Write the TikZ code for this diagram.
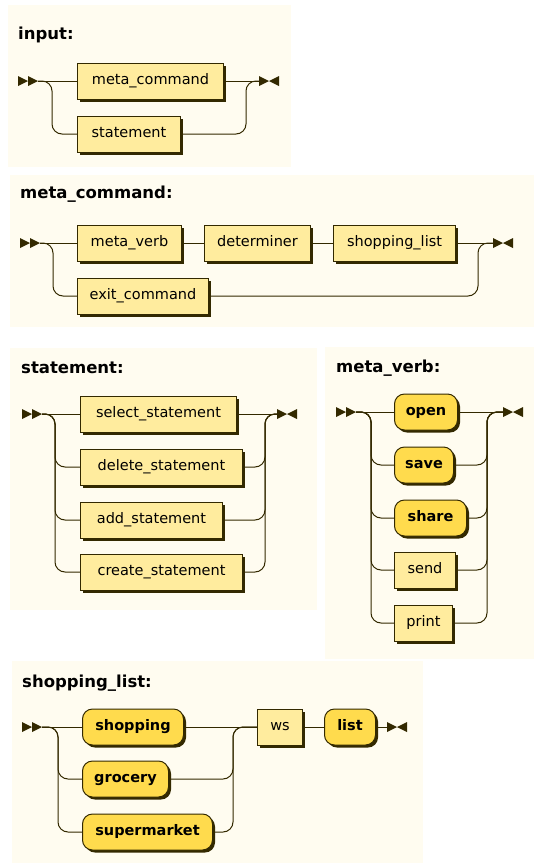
\documentclass[tikz,border=0pt]{standalone}
\usepackage{fontspec}
\setmainfont{DejaVu Sans}
\usepackage{tikz}
\usetikzlibrary{positioning,shadows}

\definecolor{railc}{HTML}{332900}
\definecolor{tfill}{HTML}{FFDB4D}
\definecolor{ntfill}{HTML}{FFEC9E}
\definecolor{panelc}{HTML}{FFFCF0}

\newcommand\boxfont{\fontsize{14.5}{17}\selectfont}
\newcommand\termfont{\fontsize{14.5}{17}\selectfont\bfseries}
\newcommand\headfont{\fontsize{16.5}{19}\selectfont\bfseries}

\tikzset{
    rail/.style={draw=railc, line width=1pt, rounded corners=10pt},
    ntbox/.style={draw=railc, fill=ntfill, line width=1pt, anchor=west,
        minimum height=36pt, text height=10.5pt, text depth=3pt, font=\boxfont,
        general shadow={fill=railc, shadow xshift=2.5pt, shadow yshift=-2.5pt}},
    tbox/.style={ntbox, fill=tfill, rounded corners=10pt, font=\termfont},
    heading/.style={anchor=base west, inner sep=0pt, font=\headfont},
    panel/.style={fill=panelc},
    startmark/.pic={
        \fill[railc] (-20,-5) -- (-10,0) -- (-20,5) -- cycle;
        \fill[railc] (-10,-5) -- (0,0) -- (-10,5) -- cycle;
    },
    endmark/.pic={
        \fill[railc] (0,-5) -- (10,0) -- (0,5) -- cycle;
        \fill[railc] (20,-5) -- (10,0) -- (20,5) -- cycle;
    }
}

\begin{document}
\begin{tikzpicture}[x=1pt, y=-1pt]
    \useasboundingbox (0,0) rectangle (534,863);

    % panels
    \fill[panel] (8,5)     rectangle (291,167);
    \fill[panel] (10,175)  rectangle (534,327);
    \fill[panel] (10,348)  rectangle (317,610);
    \fill[panel] (325,347) rectangle (534,659);
    \fill[panel] (12,661)  rectangle (423,863);

    % input
    \node[heading] at (18,39) (hIn) {input:};
    \coordinate (s1) at (38,81);
    \coordinate (e1) at (259,81);
    \pic at (s1) {startmark};
    \pic at (e1) {endmark};
    \node[ntbox, minimum width=146pt] at (77,81)  (mc) {meta\_command};
    \node[ntbox, minimum width=103pt] at (77,134) (st) {statement};
    \draw[rail] (s1) -- (mc) (mc) -- (e1);
    \draw[rail] (s1) -| ([xshift=-25pt]st.west) -- (st);
    \draw[rail] (st) -| ([xshift=-13pt]e1) -- (e1);

    % meta_command
    \node[heading] at (20,198) (hMc) {meta\_command:};
    \coordinate (s2) at (40,243);
    \coordinate (e2) at (493,243);
    \pic at (s2) {startmark};
    \pic at (e2) {endmark};
    \node[ntbox, minimum width=104pt] at (77,243)  (mv)  {meta\_verb};
    \node[ntbox, minimum width=106pt] at (204,243) (det) {determiner};
    \node[ntbox, minimum width=122pt] at (333,243) (sl)  {shopping\_list};
    \node[ntbox, minimum width=131pt] at (77,296)  (ex)  {exit\_command};
    \draw[rail]
        (s2) edge (mv)
        (mv) edge (det)
        (det) edge (sl)
        (sl) edge (e2);
    \draw[rail] (s2) -| ([xshift=-24pt]ex.west) -- (ex);
    \draw[rail] (ex) -| ([xshift=-15pt]e2) -- (e2);

    % statement
    \node[heading] at (21,373) (hSt) {statement:};
    \coordinate (s3) at (42,414);
    \coordinate (e3) at (277,414);
    \pic at (s3) {startmark};
    \pic at (e3) {endmark};
    \node[ntbox, minimum width=156pt] at (80,414) (sel) {select\_statement};
    \node[ntbox, minimum width=162pt] at (80,467) (del) {delete\_statement};
    \node[ntbox, minimum width=142pt] at (80,520) (add) {add\_statement};
    \node[ntbox, minimum width=162pt] at (80,572) (cre) {create\_statement};
    \draw[rail] (s3) -- (sel) (sel) -- (e3);
    \foreach \n in {del,add,cre} {
        \draw[rail] (s3) -| ([xshift=-25pt]\n.west) -- (\n);
        \draw[rail] (\n) -| ([xshift=-12pt]e3) -- (e3);
    }

    % meta_verb
    \node[heading] at (336,372) (hMv) {meta\_verb:};
    \coordinate (s4) at (356,412);
    \coordinate (e4) at (503,412);
    \pic at (s4) {startmark};
    \pic at (e4) {endmark};
    \node[tbox, minimum width=63pt]  at (394,412) (open)  {open};
    \node[tbox, minimum width=59pt]  at (394,465) (save)  {save};
    \node[tbox, minimum width=72pt]  at (394,518) (share) {share};
    \node[ntbox, minimum width=61pt] at (394,570) (send)  {send};
    \node[ntbox, minimum width=58pt] at (394,623) (print) {print};
    \draw[rail] (s4) -- (open) (open) -- (e4);
    \foreach \n in {save,share,send,print} {
        \draw[rail] (s4) -| ([xshift=-23pt]\n.west) -- (\n);
        \draw[rail] (\n) -| ([xshift=-16pt]e4) -- (e4);
    }

    % shopping_list
    \node[heading] at (22,687) (hSl) {shopping\_list:};
    \coordinate (s5) at (42,727);
    \coordinate (e5) at (387,727);
    \pic at (s5) {startmark};
    \pic at (e5) {endmark};
    \node[tbox, minimum width=101pt] at (82,727)  (shop) {shopping};
    \node[tbox, minimum width=86pt]  at (82,779)  (groc) {grocery};
    \node[tbox, minimum width=130pt] at (82,832)  (sup)  {supermarket};
    \node[ntbox, minimum width=45pt] at (257,727) (ws)   {ws};
    \node[tbox, minimum width=51pt]  at (324,727) (list) {list};
    \draw[rail]
        (s5) edge (shop)
        (shop) edge (ws)
        (ws) edge (list)
        (list) edge (e5);
    \foreach \n in {groc,sup} {
        \draw[rail] (s5) -| ([xshift=-24pt]\n.west) -- (\n);
        \draw[rail] (\n) -| ([xshift=-24pt]ws.west) -- (ws);
    }
\end{tikzpicture}
\end{document}
